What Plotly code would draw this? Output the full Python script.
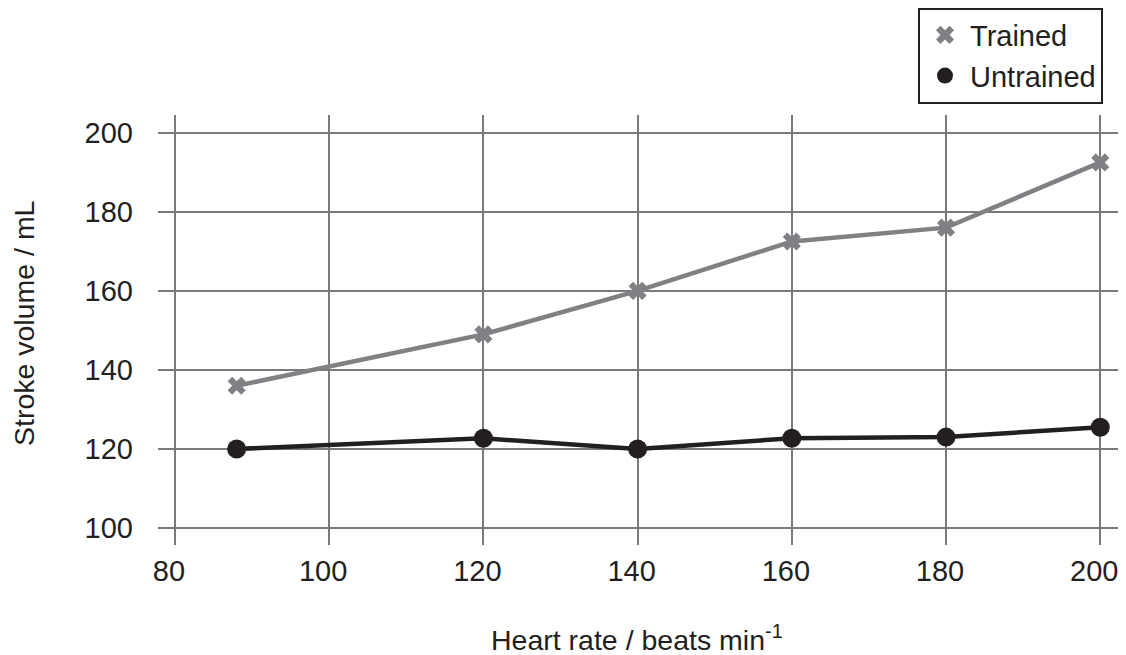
import plotly.graph_objects as go

heart_rate = [88, 120, 140, 160, 180, 200]
trained = [136, 149, 160, 172.5, 176, 192.5]
untrained = [120, 122.7, 120, 122.7, 123, 125.5]
x_ticks = [80, 100, 120, 140, 160, 180, 200]
y_ticks = [100, 120, 140, 160, 180, 200]

FONT = "Liberation Sans, Arial, sans-serif"
GRAY = "#808184"
DARK = "#231f20"
GRID = "#7a7a7c"

fig = go.Figure()
# lines (no legend entry)
fig.add_trace(go.Scatter(
    x=heart_rate, y=trained, mode="lines", showlegend=False, hoverinfo="skip",
    line=dict(color=GRAY, width=4.5),
))
fig.add_trace(go.Scatter(
    x=heart_rate, y=untrained, mode="lines", showlegend=False, hoverinfo="skip",
    line=dict(color=DARK, width=4.5),
))
# markers (legend shows markers only)
fig.add_trace(go.Scatter(
    x=heart_rate, y=trained, name="Trained", mode="markers",
    marker=dict(symbol="x", size=16, color=GRAY, line=dict(width=0)),
))
fig.add_trace(go.Scatter(
    x=heart_rate, y=untrained, name="Untrained", mode="markers",
    marker=dict(symbol="circle", size=19, color=DARK),
))

fig.update_layout(
    width=1126, height=655,
    margin=dict(l=158, r=8, t=113, b=110),
    paper_bgcolor="white", plot_bgcolor="white",
    font=dict(family=FONT, size=29, color="#231f20"),
    showlegend=True,
    legend=dict(
        x=(1103 - 158) / 960, y=(545 - 5) / 432, xanchor="right", yanchor="top",
        bordercolor="#231f20", borderwidth=2, bgcolor="white",
        font=dict(size=29), itemsizing="trace", tracegroupgap=0, itemwidth=40,
    ),
    xaxis=dict(
        range=[77.8, 202.3], tickvals=x_ticks, showgrid=True,
        gridcolor=GRID, gridwidth=2, zeroline=False, showline=False,
        ticks="", ticklabelstandoff=6, ticklabelshift=-6,
    ),
    yaxis=dict(
        range=[95.7, 204.5], tickvals=y_ticks, showgrid=True,
        gridcolor=GRID, gridwidth=2, zeroline=False, showline=False,
        ticks="", ticklabelstandoff=24,
    ),
    annotations=[
        dict(text="Heart rate / beats min<sup>-1</sup>", xref="paper", yref="paper",
             x=(637 - 158) / 960, y=-(638 - 545) / 432, xanchor="center", yanchor="middle",
             showarrow=False, font=dict(size=28.5)),
        dict(text="Stroke volume / mL", xref="paper", yref="paper", textangle=-90,
             x=-(158 - 24) / 960, y=(545 - 322) / 432, xanchor="center", yanchor="middle",
             showarrow=False, font=dict(size=28.5)),
    ],
)
fig.write_html("out.html", config={"displayModeBar": False},
               post_script="document.body.style.margin='0';document.body.style.padding='0';")
